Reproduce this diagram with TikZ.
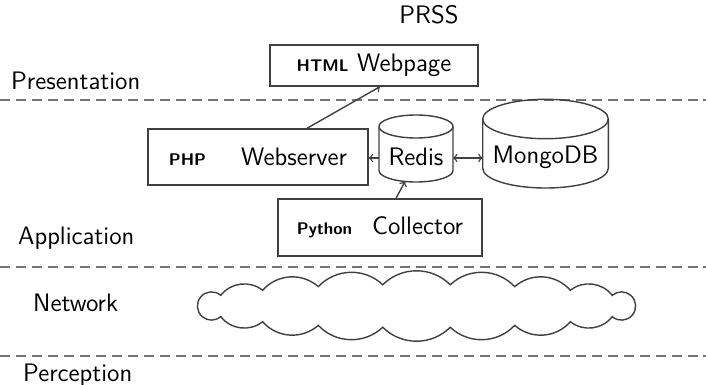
\documentclass[tikz,border=0pt]{standalone}
\renewcommand{\familydefault}{\sfdefault}
\newcommand{\langname}[1]{{\bfseries\fontsize{9.6}{11}\selectfont #1}}
% drum: centre x, top ellipse y, bottom ellipse y, x radius, y radius
\newcommand{\drum}[5]{%
  \draw[link](#1-#4,#2)--(#1-#4,#3)arc[start angle=180,end angle=0,x radius=#4,y radius=#5]--(#1+#4,#2);
  \draw[link](#1,#2)ellipse[x radius=#4,y radius=#5];}
\tikzset{
  layer/.style={draw=black!55,dashed,dash pattern=on 5.7pt off 3.4pt,thick},
  tier/.style={anchor=west,font=\Large},
  block/.style={draw=black!75,thick,font=\Large,inner sep=0pt},
  link/.style={thick,black!75}
}
\begin{document}
\begin{tikzpicture}[x=0.02cm,y=-0.02cm,>=to]
        \useasboundingbox(0,0)rectangle(706,385);
        % layers
        \draw[layer](0,100)--(706,100);
        \draw[layer](0,267)--(706,267);
        \draw[layer](0,356)--(706,356);
        \node[tier](pres)at(5,81){Presentation};
        \node[tier](appl)at(12,238){Application};
        \node[tier](netw)at(27,303){Network};
        \node[tier](perc)at(17,375){Perception};
        \node[font=\Large](title)at(429,15){PRSS};
        % components
        \node[block,minimum width=41.6mm,minimum height=8.2mm](html)at(374,65.5){\langname{HTML} Webpage};
        \node[block,minimum width=44mm,minimum height=11.2mm](web)at(258,157){\langname{PHP}\hspace{7mm}Webserver};
        \node[block,minimum width=40.8mm,minimum height=11.4mm](coll)at(380,227.5){\langname{Python}\hspace{4mm}Collector};
        \drum{416}{126.5}{170.5}{37}{11.5}
        \drum{545.5}{119}{168.3}{62.8}{19.7}
        \node[font=\Large](redis)at(416,157){Redis};
        \node[font=\Large](mongo)at(545.5,157){MongoDB};
        \coordinate(redisW)at(379,158);
        \coordinate(redisE)at(453,158);
        \coordinate(mongoW)at(482.7,158);
        \coordinate(redisS)at(405,181.5);
        % network cloud
        \begin{scope}[shift={(416.5,306)},yscale=-1]
        \draw[link](29.8:225.6 and 21.5)
            \foreach \t in {47,64.2,81.4,98.6,115.8,133,150.2}{to[bend left=45](\t:225.6 and 21.5)}
            arc[start angle=49.1,end angle=310.9,radius=14.12]
            \foreach \t in {227,244.2,261.4,278.6,295.8,313,330.2}{to[bend left=45](\t:225.6 and 21.5)}
            arc[start angle=229.1,end angle=490.9,radius=14.12]--cycle;
        \end{scope}
        % connections
        \draw[->,link]([xshift=9.8mm]web.north)--([xshift=1.2mm]html.south);
        \draw[->,link](redisW)--(redisW-|web.east);
        \draw[<->,link](redisE)--(mongoW);
        \draw[->,link]([xshift=3.2mm]coll.north)--(redisS);
    \end{tikzpicture}
\end{document}
